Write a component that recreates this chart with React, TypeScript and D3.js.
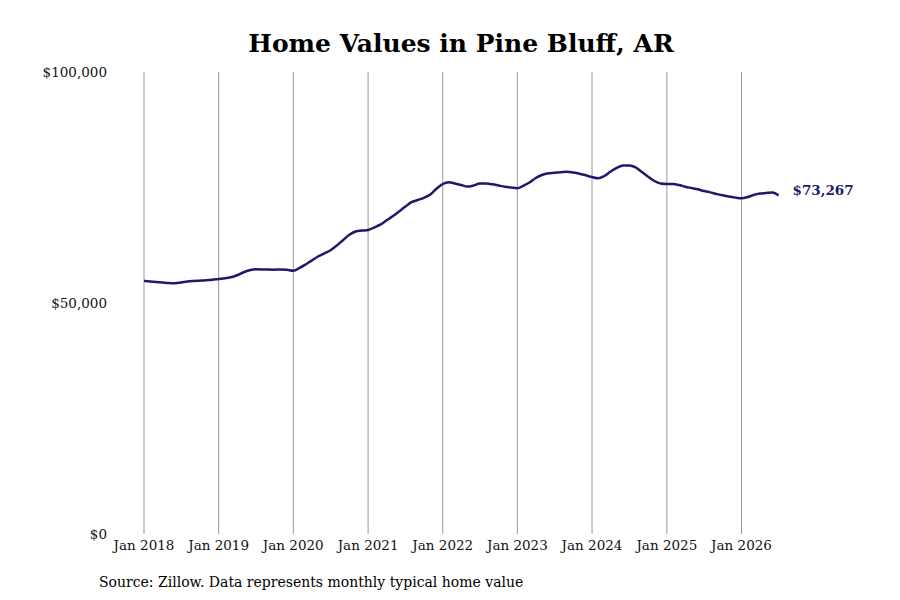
import React from "react";
import * as d3 from "d3";

const title = "Home Values in Pine Bluff, AR";
const source = "Source: Zillow. Data represents monthly typical home value";
const startYear = 2018;
const startMonth = 0;

const values: number[] = [
  // 2018
  54760, 54650, 54550, 54440, 54330, 54290, 54440, 54650, 54760, 54830, 54910, 55020,
  // 2019
  55190, 55340, 55560, 56000, 56600, 57080, 57290, 57270, 57230, 57210, 57270, 57200,
  // 2020
  57000, 57580, 58330, 59220, 60060, 60760, 61430, 62450, 63640, 64760, 65480, 65670,
  // 2021
  65800, 66390, 66950, 67880, 68770, 69800, 70820, 71820, 72290, 72770, 73480, 74720,
  // 2022
  75760, 76130, 75870, 75540, 75190, 75430, 75840, 75840, 75690, 75430, 75170, 75000,
  // 2023
  74830, 75430, 76080, 77060, 77710, 78070, 78180, 78310, 78420, 78250, 77990, 77640,
  // 2024
  77270, 76990, 77490, 78460, 79260, 79760, 79740, 79350, 78350, 77340, 76410, 75870,
  // 2025
  75760, 75760, 75540, 75170, 74890, 74610, 74240, 73940, 73610, 73310, 73050, 72810,
  // 2026
  72660, 72940, 73380, 73680, 73810, 73920, 73267,
];

const yTicks = [0, 50000, 100000];
const xTickYears = [2018, 2019, 2020, 2021, 2022, 2023, 2024, 2025, 2026];

const FONT = "'DejaVu Serif', serif";
const NAVY = "#1c1a6b";

export default function App() {
  const data = values.map((v, i) => ({
    date: new Date(startYear, startMonth + i, 1),
    value: v,
  }));

  const x = d3
    .scaleTime()
    .domain([new Date(2018, 0, 1), new Date(2026, 0, 1)])
    .range([144, 741.5]);
  const y = d3.scaleLinear().domain([0, 100000]).range([534, 72]);

  const line = d3
    .line<{ date: Date; value: number }>()
    .x((d) => x(d.date))
    .y((d) => y(d.value))
    .curve(d3.curveMonotoneX);

  const fmt = d3.format("$,");
  const last = data[data.length - 1];

  return (
    <svg
      width={900}
      height={600}
      style={{ position: "absolute", left: 0, top: 0, background: "#fff" }}
      fontFamily={FONT}
    >
      <rect width={900} height={600} fill="#fff" />
      <text x={461} y={52} textAnchor="middle" fontSize={25} fontWeight="bold" fill="#000">
        {title}
      </text>
      {xTickYears.map((yr) => {
        const xx = x(new Date(yr, 0, 1));
        return (
          <g key={yr}>
            <line x1={xx} x2={xx} y1={y(100000)} y2={y(0)} stroke="#999" strokeWidth={1} />
            <text x={xx} y={550} textAnchor="middle" fontSize={13.5} fill="#111">
              {`Jan ${yr}`}
            </text>
          </g>
        );
      })}
      {yTicks.map((t) => (
        <text key={t} x={107} y={y(t)} dy="0.35em" textAnchor="end" fontSize={13.5} fill="#111">
          {fmt(t)}
        </text>
      ))}
      <path d={line(data) || ""} fill="none" stroke={NAVY} strokeWidth={2.5} strokeLinejoin="round" />
      <text
        x={x(last.date) + 14}
        y={y(last.value) - 5}
        dy="0.35em"
        fontSize={13.5}
        fontWeight="bold"
        fill={NAVY}
      >
        {fmt(last.value)}
      </text>
      <text x={99} y={587} fontSize={14} fill="#000">
        {source}
      </text>
    </svg>
  );
}
